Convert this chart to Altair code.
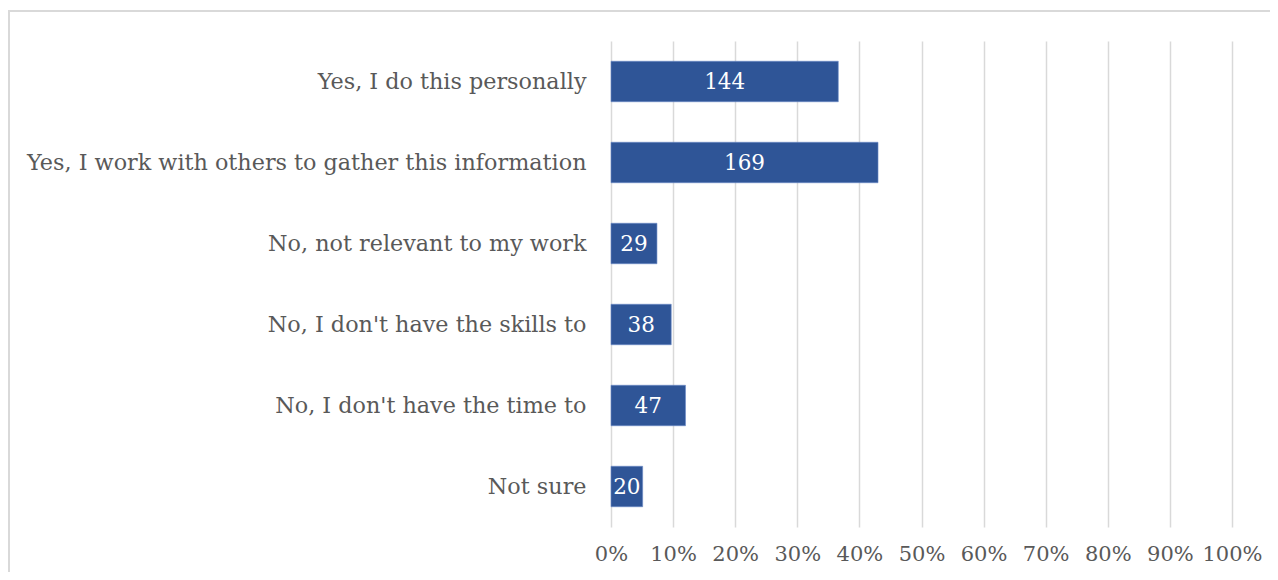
import altair as alt
import pandas as pd

categories = [
    "Yes, I do this personally",
    "Yes, I work with others to gather this information",
    "No, not relevant to my work",
    "No, I don't have the skills to",
    "No, I don't have the time to",
    "Not sure",
]
counts = [144, 169, 29, 38, 47, 20]
percents = [0.366, 0.430, 0.074, 0.097, 0.120, 0.051]

df = pd.DataFrame({"category": categories, "count": counts, "pct": percents})

FONT = "DejaVu Serif"
GRAY = "#595959"

y_enc = alt.Y("category:N", sort=categories, title=None,
              scale=alt.Scale(paddingInner=0.5, paddingOuter=0.25),
              axis=alt.Axis(labelFont=FONT, labelFontSize=22.3, labelColor=GRAY,
                            ticks=False, domain=False, labelPadding=25,
                            labelLimit=700))
x_enc = alt.X("pct:Q", title=None,
              scale=alt.Scale(domain=[0, 1], nice=False),
              axis=alt.Axis(format=".0%", values=[i / 10 for i in range(11)],
                            labelFont=FONT, labelFontSize=21, labelColor=GRAY,
                            ticks=False, domain=False, labelPadding=16,
                            grid=True, gridColor="#d9d9d9", gridWidth=1.5,
                            labelFlush=False))

bars = alt.Chart(df).mark_bar(color="#2F5597", stroke="#6b8cc7", strokeWidth=0.6).encode(
    x=x_enc, y=y_enc
)

labels = alt.Chart(df).transform_calculate(mid="datum.pct / 2").mark_text(
    font=FONT, fontSize=21.5, color="white", baseline="middle", dy=1
).encode(
    x=alt.X("mid:Q"),
    y=alt.Y("category:N", sort=categories),
    text="count:Q",
)

frame = alt.Chart(pd.DataFrame({"a": [0]})).mark_rect(
    fill=None, stroke="#d9d9d9", strokeWidth=2
).encode(
    x=alt.value(-602), x2=alt.value(700), y=alt.value(-30), y2=alt.value(600)
)

chart = alt.layer(frame, bars, labels).properties(
    width=621, height=486,
    autosize=alt.AutoSizeParams(type="none"),
    padding={"left": 603, "top": 33, "right": 38, "bottom": 45},
).configure_view(stroke=None)

chart.save("out.html", embed_options={"renderer": "svg", "actions": False})
